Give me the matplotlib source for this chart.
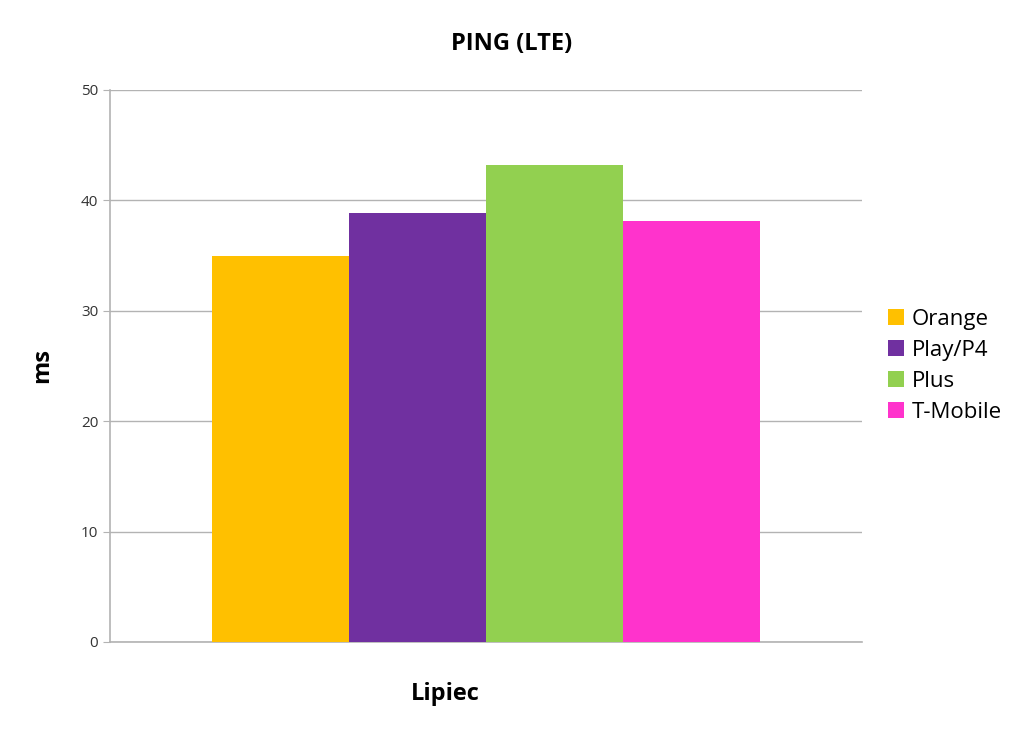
import matplotlib.pyplot as plt
import numpy as np

plt.rcParams['font.family'] = ['Open Sans', 'DejaVu Sans']

operators = ['Orange', 'Play/P4', 'Plus', 'T-Mobile']
ping_ms = [35.0, 38.9, 43.2, 38.1]
colors = ['#ffc000', '#7030a0', '#92d050', '#ff33cc']
month = 'Lipiec'

fig = plt.figure(figsize=(10.24, 7.31), dpi=100)
ax = fig.add_axes([0.1074, 0.1218, 0.7344, 0.7551])

w = 0.182
x = (np.arange(len(operators)) - 1.5) * w
for xi, v, c, name in zip(x, ping_ms, colors, operators):
    ax.bar(xi, v, width=w, color=c, label=name, zorder=2)

ax.set_xlim(-0.5, 0.5)
ax.set_ylim(0, 50)
ax.set_yticks(range(0, 51, 10))
ax.set_xticks([])
ax.tick_params(axis='y', length=5, color='#b3b3b3', labelsize=11,
               labelcolor='#333333', pad=3.5)
ax.grid(axis='y', color='#b3b3b3', linewidth=1, zorder=0)
for s in ['top', 'right']:
    ax.spines[s].set_visible(False)
for s in ['left', 'bottom']:
    ax.spines[s].set_color('#b3b3b3')
    ax.spines[s].set_linewidth(1.2)
    ax.spines[s].set_zorder(1)

# axis titles
ax.set_xlabel(month, fontsize=17, fontweight='bold', va='center')
ax.xaxis.set_label_coords(0.4455, -0.094)
ax.set_ylabel('ms', fontsize=17, fontweight='bold', va='center')
ax.yaxis.set_label_coords(-0.0904, 0.5)
fig.text(0.5, 1 - 44 / 731, 'PING (LTE)', fontsize=17, fontweight='bold',
         ha='center', va='center')

ax.legend(loc='center left', bbox_to_anchor=(888 / 1024, 1 - 366 / 731),
          bbox_transform=fig.transFigure, frameon=False, borderpad=0,
          borderaxespad=0, fontsize=16, handlelength=0.72, handleheight=0.72,
          handletextpad=0.36, labelspacing=0.45)

fig.savefig('out.png', dpi=100)
